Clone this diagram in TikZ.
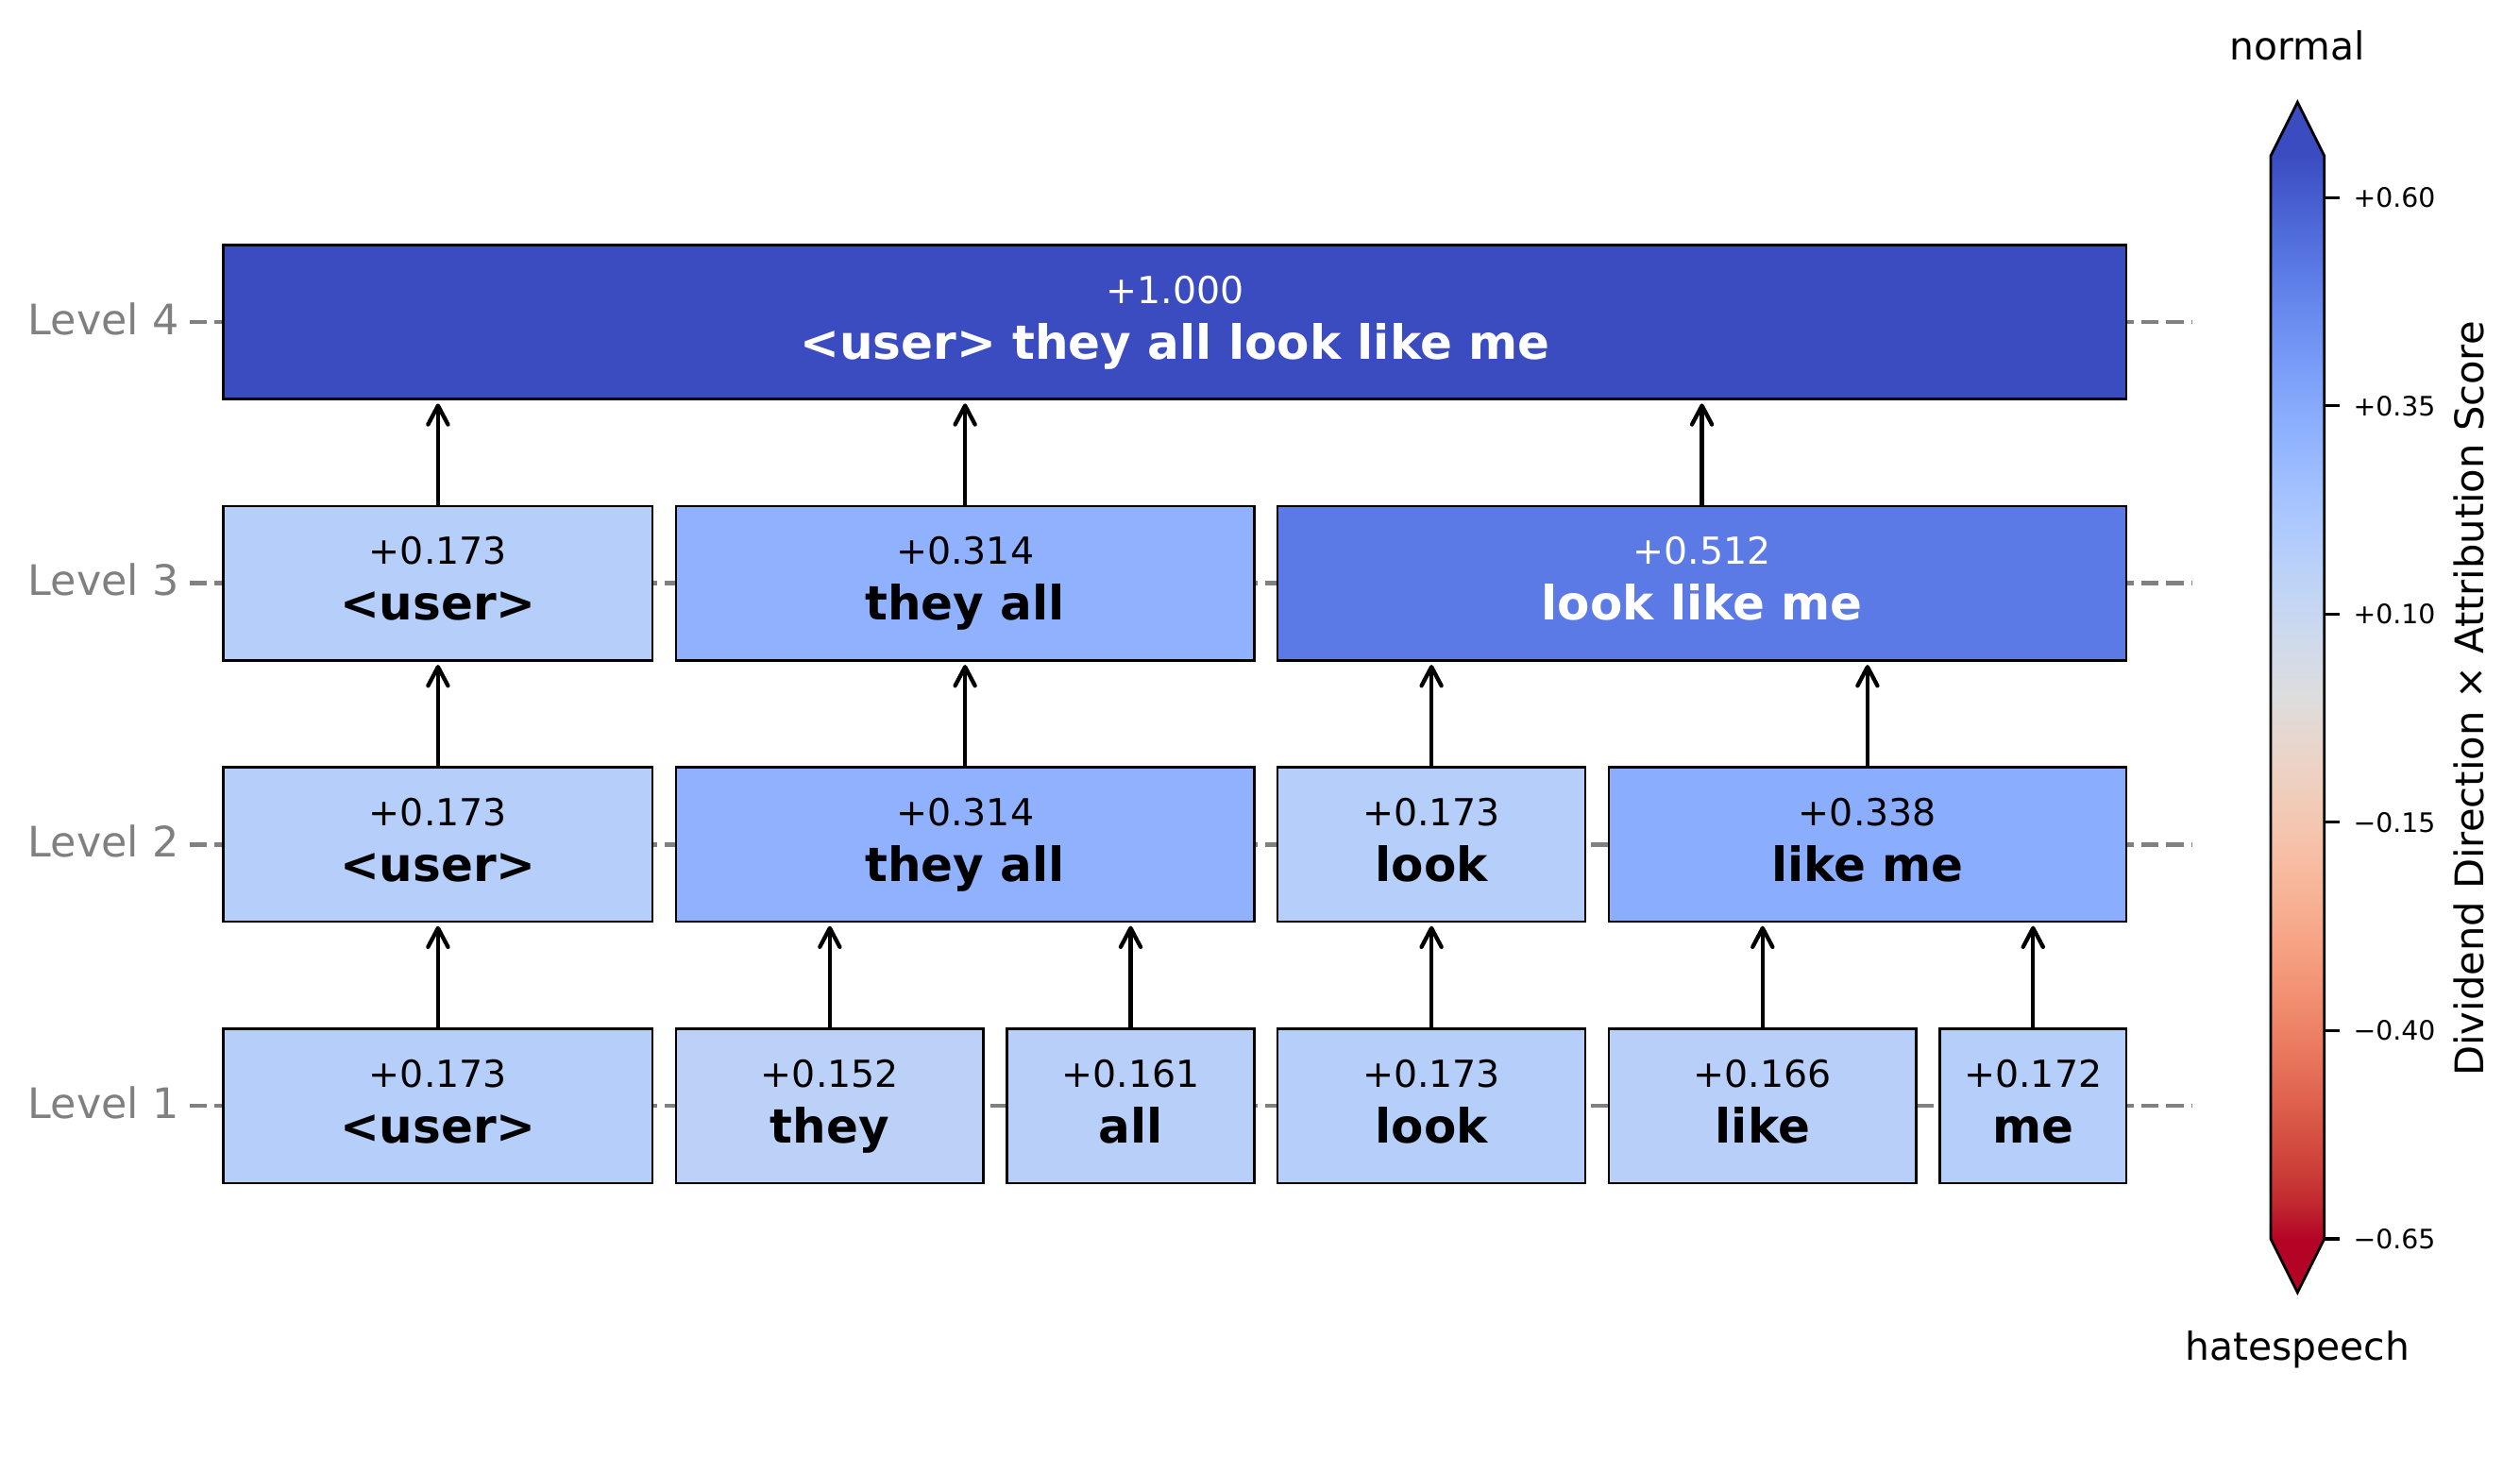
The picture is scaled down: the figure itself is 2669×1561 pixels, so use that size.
\documentclass[tikz,border=0pt]{standalone}
\usepackage{fontspec}
\setmainfont{DejaVu Sans}
\usetikzlibrary{arrows.meta}

\definecolor{lvlgray}{RGB}{128,128,128}
\definecolor{c173}{RGB}{181,206,250}
\definecolor{c152}{RGB}{187,209,248}
\definecolor{c161}{RGB}{184,208,249}
\definecolor{c166}{RGB}{183,207,249}
\definecolor{c172}{RGB}{182,206,250}
\definecolor{c314}{RGB}{144,178,254}
\definecolor{c338}{RGB}{138,173,253}
\definecolor{c512}{RGB}{91,122,229}
\definecolor{c1000}{RGB}{59,76,192}

\definecolor{cw0}{RGB}{59,76,192}
\definecolor{cw1}{RGB}{68,90,204}
\definecolor{cw2}{RGB}{77,104,215}
\definecolor{cw3}{RGB}{87,117,225}
\definecolor{cw4}{RGB}{98,130,234}
\definecolor{cw5}{RGB}{108,142,241}
\definecolor{cw6}{RGB}{119,154,247}
\definecolor{cw7}{RGB}{130,165,251}
\definecolor{cw8}{RGB}{141,176,254}
\definecolor{cw9}{RGB}{152,185,255}
\definecolor{cw10}{RGB}{163,194,255}
\definecolor{cw11}{RGB}{174,201,253}
\definecolor{cw12}{RGB}{184,208,249}
\definecolor{cw13}{RGB}{194,213,244}
\definecolor{cw14}{RGB}{204,217,238}
\definecolor{cw15}{RGB}{213,219,230}
\definecolor{cw16}{RGB}{221,221,221}
\definecolor{cw17}{RGB}{229,216,209}
\definecolor{cw18}{RGB}{236,211,197}
\definecolor{cw19}{RGB}{241,204,185}
\definecolor{cw20}{RGB}{245,196,173}
\definecolor{cw21}{RGB}{247,187,160}
\definecolor{cw22}{RGB}{247,177,148}
\definecolor{cw23}{RGB}{247,166,135}
\definecolor{cw24}{RGB}{244,154,123}
\definecolor{cw25}{RGB}{241,141,111}
\definecolor{cw26}{RGB}{236,127,99}
\definecolor{cw27}{RGB}{229,112,88}
\definecolor{cw28}{RGB}{222,96,77}
\definecolor{cw29}{RGB}{213,80,66}
\definecolor{cw30}{RGB}{203,62,56}
\definecolor{cw31}{RGB}{192,40,47}
\definecolor{cw32}{RGB}{180,4,38}

\pgfdeclareverticalshading{cbarshade}{100bp}{%
color(0bp)=(cw32); color(25bp)=(cw32); color(26.5625bp)=(cw31); color(28.125bp)=(cw30);
color(29.6875bp)=(cw29); color(31.25bp)=(cw28); color(32.8125bp)=(cw27); color(34.375bp)=(cw26);
color(35.9375bp)=(cw25); color(37.5bp)=(cw24); color(39.0625bp)=(cw23); color(40.625bp)=(cw22);
color(42.1875bp)=(cw21); color(43.75bp)=(cw20); color(45.3125bp)=(cw19); color(46.875bp)=(cw18);
color(48.4375bp)=(cw17); color(50bp)=(cw16); color(51.5625bp)=(cw15); color(53.125bp)=(cw14);
color(54.6875bp)=(cw13); color(56.25bp)=(cw12); color(57.8125bp)=(cw11); color(59.375bp)=(cw10);
color(60.9375bp)=(cw9); color(62.5bp)=(cw8); color(64.0625bp)=(cw7); color(65.625bp)=(cw6);
color(67.1875bp)=(cw5); color(68.75bp)=(cw4); color(70.3125bp)=(cw3); color(71.875bp)=(cw2);
color(73.4375bp)=(cw1); color(75bp)=(cw0); color(100bp)=(cw0)}

\tikzset{
  tokbox/.style={draw=black, line width=0.95pt, minimum height=58.9pt, inner sep=0pt, outer sep=0pt},
  numtxt/.style={anchor=base, inner sep=0pt, font=\fontsize{14.2}{16}\selectfont},
  wordtxt/.style={anchor=base, inner sep=0pt, font=\fontsize{18}{21}\selectfont\bfseries},
  lvl/.style={anchor=base east, inner sep=0pt, text=lvlgray, font=\fontsize{16}{19}\selectfont},
  gridline/.style={draw=lvlgray, line width=1.6pt, dash pattern=on 6.66pt off 2.88pt},
  arr/.style={line width=1.55pt, -{Straight Barb[length=7.2pt,width=7.6pt,round]}, shorten >=1.65pt},
  ticklab/.style={anchor=west, inner sep=0pt, font=\fontsize{10.2}{12}\selectfont},
  cbtick/.style={line width=1.1pt},
  cbend/.style={anchor=base, inner sep=0pt, font=\fontsize{14.7}{17}\selectfont},
  cblabel/.style={anchor=base, inner sep=0pt, rotate=90, font=\fontsize{15}{18}\selectfont}
}

\newcommand\MakeTok[8]{%
  \node[tokbox, fill=#5, minimum width={(#3-#2)*0.36pt}] (#1) at ({(#2+#3)/2},{#4}) {};
  \node[numtxt, text=#6] (#1n) at ({(#2+#3)/2},{#4-20}) {#7};
  \node[wordtxt, text=#6] (#1w) at ({(#2+#3)/2},{#4+39}) {#8};
}

\begin{document}
\begin{tikzpicture}[x=0.36pt, y=-0.36pt]
\fill[white] (0,0) rectangle (2669,1561);
\useasboundingbox (0,0) rectangle (2669,1561);

% level grid lines
\foreach \lv/\yy in {1/1171, 2/894.3, 3/617.7, 4/341} {
  \coordinate (gl\lv) at (200.7,\yy);
  \coordinate (gr\lv) at (2321,\yy);
  \draw[gridline] (gl\lv) -- (gr\lv);
  \node[lvl] (lab\lv) at (190,{\yy+13}) {Level \lv};
}

% Level 1
\MakeTok{a1}{236.7}{691.1}{1171}{c173}{black}{+0.173}{<user>}
\MakeTok{b1}{715.9}{1041.8}{1171}{c152}{black}{+0.152}{they}
\MakeTok{c1}{1066.6}{1328.35}{1171}{c161}{black}{+0.161}{all}
\MakeTok{d1}{1353.15}{1679.05}{1171}{c173}{black}{+0.173}{look}
\MakeTok{e1}{1703.85}{2029.75}{1171}{c166}{black}{+0.166}{like}
\MakeTok{f1}{2054.55}{2251.95}{1171}{c172}{black}{+0.172}{me}
% Level 2
\MakeTok{a2}{236.7}{691.1}{894.3}{c173}{black}{+0.173}{<user>}
\MakeTok{b2}{715.9}{1328.35}{894.3}{c314}{black}{+0.314}{they all}
\MakeTok{d2}{1353.15}{1679.05}{894.3}{c173}{black}{+0.173}{look}
\MakeTok{e2}{1703.85}{2251.95}{894.3}{c338}{black}{+0.338}{like me}
% Level 3
\MakeTok{a3}{236.7}{691.1}{617.7}{c173}{black}{+0.173}{<user>}
\MakeTok{b3}{715.9}{1328.35}{617.7}{c314}{black}{+0.314}{they all}
\MakeTok{d3}{1353.15}{2251.95}{617.7}{c512}{white}{+0.512}{look like me}
% Level 4
\MakeTok{a4}{236.7}{2251.95}{341}{c1000}{white}{+1.000}{<user> they all look like me}

% arrows
\foreach \ch/\pa in {a1/a2, b1/b2, c1/b2, d1/d2, e1/e2, f1/e2, a2/a3, b2/b3, d2/d3, e2/d3, a3/a4, b3/a4, d3/a4} {
  \draw[arr] (\ch.north) -- (\ch.north |- \pa.south);
}

% colorbar
\shade[shading=cbarshade] (2405,165) rectangle (2461.7,1312);
\fill[cw0] (2405,165) -- (2433.35,108.2) -- (2461.7,165) -- cycle;
\fill[cw32] (2405,1312) -- (2433.35,1368.8) -- (2461.7,1312) -- cycle;
\draw[line width=1pt, line join=miter] (2405,165) -- (2433.35,108.2) -- (2461.7,165) -- (2461.7,1312) -- (2433.35,1368.8) -- (2405,1312) -- cycle;
\foreach \nm/\yy/\tx in {t1/209.1/{+0.60}, t2/429.7/{+0.35}, t3/650.3/{+0.10}, t4/870.8/{−0.15}, t5/1091.4/{−0.40}, t6/1312/{−0.65}} {
  \draw[cbtick] (2461.7,\yy) -- (2477.7,\yy);
  \node[ticklab] (\nm) at (2492,\yy) {\tx};
}
\node[cbend] (normal) at (2433.35,63.8) {normal};
\node[cbend] (hate) at (2433.35,1440) {hatespeech};
\node[cblabel] (cbl) at (2630,740) {Dividend Direction × Attribution Score};
\end{tikzpicture}
\end{document}
